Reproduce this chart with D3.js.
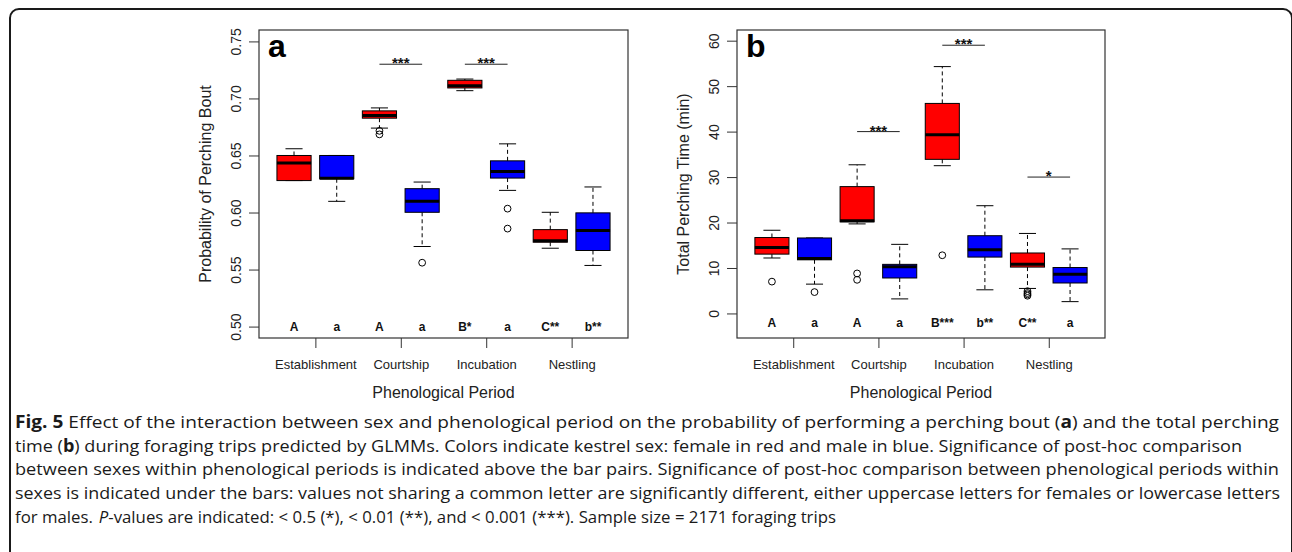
<!DOCTYPE html>
<html><head><meta charset="utf-8">
<script src="https://cdn.jsdelivr.net/npm/d3@7"></script>
<style>body{margin:0;background:#fff;} svg{display:block;}</style>
</head><body>
<svg id="fig" width="1292" height="552"></svg>
<script>
// ---------- data ----------
const periods = ["Establishment", "Courtship", "Incubation", "Nestling"];
const sexColors = ["#ff0000", "#0000ff"]; // female, male (alternating boxes)

// Panel a: probability of perching bout (female, male for each period)
const probLow   = [0.628, 0.6098, 0.674, 0.5702, 0.7068, 0.6194, 0.5687, 0.5536];
const probQ1    = [0.628, 0.6296, 0.6827, 0.6002, 0.7092, 0.6302, 0.574, 0.5667];
const probMed   = [0.6434, 0.630, 0.685, 0.6098, 0.7112, 0.636, 0.5752, 0.5842];
const probQ3    = [0.650, 0.650, 0.6891, 0.6209, 0.7159, 0.6453, 0.585, 0.5997];
const probHigh  = [0.6559, 0.650, 0.6917, 0.6267, 0.717, 0.6602, 0.6002, 0.6224];
const probOut   = [[], [], [0.6716, 0.6685], [0.556], [], [0.6034, 0.5859], [], []];
const probLetters = ["A", "a", "A", "a", "B*", "a", "C**", "b**"];
const probSigPeriod = [1, 2];
const probSigY = [0.73, 0.73];
const probSigLabel = ["***", "***"];
const probTicks = [0.50, 0.55, 0.60, 0.65, 0.70, 0.75];

// Panel b: total perching time (min)
const timeLow   = [12.2, 6.45, 19.7, 3.2, 32.5, 5.2, 5.5, 2.6];
const timeQ1    = [13.05, 11.8, 20.15, 7.8, 33.9, 12.4, 10.2, 6.7];
const timeMed   = [14.5, 12.1, 20.4, 10.3, 39.3, 14.0, 10.8, 8.65];
const timeQ3    = [16.7, 16.6, 27.9, 10.8, 46.2, 17.1, 13.3, 10.1];
const timeHigh  = [18.3, 16.6, 32.7, 15.2, 54.3, 23.7, 17.6, 14.2];
const timeOut   = [[7.0], [4.7], [8.8, 7.4], [], [12.8], [], [4.9, 4.5, 4.2, 3.9], []];
const timeLetters = ["A", "a", "A", "a", "B***", "b**", "C**", "a"];
const timeSigPeriod = [1, 2, 3];
const timeSigY = [40, 59, 30];
const timeSigLabel = ["***", "***", "*"];
const timeTicks = [0, 10, 20, 30, 40, 50, 60];

const captionLines = [
  [["b","Fig. 5"],["n"," Effect of the interaction between sex and phenological period on the probability of performing a perching bout ("],["b","a"],["n",") and the total perching"]],
  [["n","time ("],["b","b"],["n",") during foraging trips predicted by GLMMs. Colors indicate kestrel sex: female in red and male in blue. Significance of post-hoc comparison"]],
  [["n","between sexes within phenological periods is indicated above the bar pairs. Significance of post-hoc comparison between phenological periods within"]],
  [["n","sexes is indicated under the bars: values not sharing a common letter are significantly different, either uppercase letters for females or lowercase letters"]],
  [["n","for males. "],["i","P"],["n","-values are indicated: < 0.5 (*), < 0.01 (**), and < 0.001 (***). Sample size = 2171 foraging trips"]]
];
const captionWidths = [1264, 1227, 1264, 1265, 821];

// ---------- drawing ----------
const svg = d3.select("#fig");
const FONT = "'Liberation Sans', Arial, sans-serif";

svg.append("rect").attr("x", 10).attr("y", 9).attr("width", 1282).attr("height", 640)
  .attr("rx", 9).attr("fill", "none").attr("stroke", "#1a1a1a").attr("stroke-width", 2);

function drawPanel(p) {
  const g = svg.append("g");
  const x = d3.scaleLinear().domain([0.18, 8.82]).range([p.left, p.left + p.width]);
  const y = d3.scaleLinear().domain(p.yDomain).range([p.top + p.height, p.top]);
  const bw = 0.8, sw = 0.4;
  const idx = d3.range(8);

  idx.forEach(i => {
    const cx = x(i + 1);
    const gg = g.append("g");
    gg.append("line").attr("x1", cx).attr("x2", cx).attr("y1", y(p.q3[i])).attr("y2", y(p.high[i]))
      .attr("stroke", "#000").attr("stroke-dasharray", "4,3");
    gg.append("line").attr("x1", cx).attr("x2", cx).attr("y1", y(p.q1[i])).attr("y2", y(p.low[i]))
      .attr("stroke", "#000").attr("stroke-dasharray", "4,3");
    [p.high[i], p.low[i]].forEach(v => {
      gg.append("line").attr("x1", x(i + 1 - sw / 2)).attr("x2", x(i + 1 + sw / 2))
        .attr("y1", y(v)).attr("y2", y(v)).attr("stroke", "#000").attr("stroke-width", 1);
    });
    gg.append("rect").attr("x", x(i + 1 - bw / 2)).attr("width", x(i + 1 + bw / 2) - x(i + 1 - bw / 2))
      .attr("y", y(p.q3[i])).attr("height", Math.max(0.5, y(p.q1[i]) - y(p.q3[i])))
      .attr("fill", sexColors[i % 2]).attr("stroke", "#000").attr("stroke-width", 1);
    gg.append("line").attr("x1", x(i + 1 - bw / 2)).attr("x2", x(i + 1 + bw / 2))
      .attr("y1", y(p.med[i])).attr("y2", y(p.med[i])).attr("stroke", "#000").attr("stroke-width", 3);
    p.out[i].forEach(v => {
      gg.append("circle").attr("cx", cx).attr("cy", y(v)).attr("r", 3.4)
        .attr("fill", "none").attr("stroke", "#000").attr("stroke-width", 1);
    });
    g.append("text").attr("x", cx).attr("y", y(p.letterY)).attr("dy", "0.36em")
      .attr("text-anchor", "middle").attr("font-family", FONT).attr("font-weight", "bold")
      .attr("font-size", 12).attr("fill", "#111").text(p.letters[i]);
  });

  p.sigPeriod.forEach((k, j) => {
    const x1 = x(2 * k + 1), x2 = x(2 * k + 2), yy = y(p.sigY[j]);
    g.append("line").attr("x1", x1).attr("x2", x2).attr("y1", yy).attr("y2", yy)
      .attr("stroke", "#222").attr("stroke-width", 1);
    g.append("text").attr("x", (x1 + x2) / 2).attr("y", yy + 4).attr("text-anchor", "middle")
      .attr("font-family", FONT).attr("font-weight", "bold").attr("font-size", 15).attr("fill", "#111")
      .text(p.sigLabel[j]);
  });

  g.append("rect").attr("x", p.left).attr("y", p.top).attr("width", p.width).attr("height", p.height)
    .attr("fill", "none").attr("stroke", "#333").attr("stroke-width", 1.2);

  const ya = g.append("g").attr("transform", `translate(${p.left},0)`)
    .call(d3.axisLeft(y).tickValues(p.ticks).tickSize(10).tickFormat(p.fmt));
  ya.select(".domain").remove();
  ya.selectAll(".tick line").attr("stroke", "#333");
  ya.selectAll(".tick text").attr("x", null).attr("dy", null)
    .attr("transform", "translate(-18,0) rotate(-90)").attr("text-anchor", "middle")
    .attr("font-family", FONT).attr("font-size", 14).attr("fill", "#222");

  const xa = g.append("g").attr("transform", `translate(0,${p.top + p.height})`)
    .call(d3.axisBottom(x).tickValues([1.5, 3.5, 5.5, 7.5]).tickSize(10).tickFormat((d, i) => periods[i]));
  xa.select(".domain").remove();
  xa.selectAll(".tick line").attr("stroke", "#333");
  xa.selectAll(".tick text").attr("y", 31).attr("dy", null)
    .attr("font-family", FONT).attr("font-size", 13).attr("fill", "#222");

  g.append("text").attr("x", p.left + p.width / 2).attr("y", 398).attr("text-anchor", "middle")
    .attr("font-family", FONT).attr("font-size", 16).attr("fill", "#222").text("Phenological Period");
  g.append("text").attr("transform", `translate(${p.left - 48},${p.top + p.height / 2}) rotate(-90)`)
    .attr("text-anchor", "middle").attr("font-family", FONT).attr("font-size", 16).attr("fill", "#222")
    .text(p.ytitle);
  g.append("text").attr("x", p.left + 9).attr("y", 57).attr("font-family", FONT).attr("font-weight", "bold")
    .attr("font-size", 32).attr("fill", "#000").text(p.tag);
}

drawPanel({left: 259, top: 30, width: 369, height: 308, yDomain: [0.49, 0.76],
  low: probLow, q1: probQ1, med: probMed, q3: probQ3, high: probHigh, out: probOut,
  letters: probLetters, letterY: 0.50, sigPeriod: probSigPeriod, sigY: probSigY, sigLabel: probSigLabel,
  ticks: probTicks, fmt: d3.format(".2f"), ytitle: "Probability of Perching Bout", tag: "a"});

drawPanel({left: 737, top: 30, width: 368, height: 308, yDomain: [-5.4, 62.35],
  low: timeLow, q1: timeQ1, med: timeMed, q3: timeQ3, high: timeHigh, out: timeOut,
  letters: timeLetters, letterY: -2, sigPeriod: timeSigPeriod, sigY: timeSigY, sigLabel: timeSigLabel,
  ticks: timeTicks, fmt: d3.format("d"), ytitle: "Total Perching Time (min)", tag: "b"});

const cap = svg.append("g");
captionLines.forEach((line, li) => {
  const t = cap.append("text").attr("x", 15).attr("y", 428 + li * 23.7)
    .attr("font-family", "'Open Sans', 'Noto Sans', sans-serif").attr("font-size", 17).attr("fill", "#1a1a1a")
    .attr("textLength", captionWidths[li]).attr("lengthAdjust", "spacingAndGlyphs");
  line.forEach(([s, txt]) => {
    const ts = t.append("tspan").text(txt);
    if (s === "b") ts.attr("font-weight", "bold");
    if (s === "i") ts.attr("font-style", "italic").attr("dx", 1.5);
  });
});
</script>
</body></html>
